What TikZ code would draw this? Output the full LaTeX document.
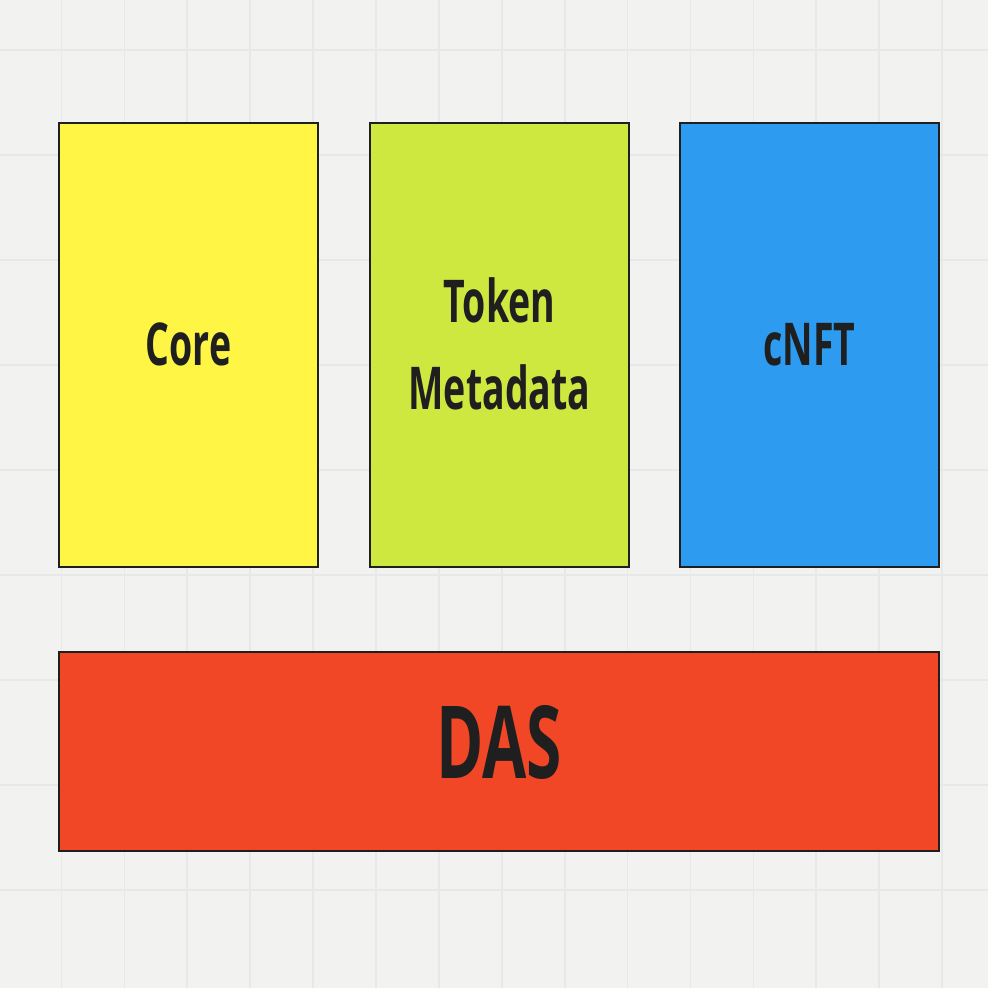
\documentclass[tikz,border=0pt]{standalone}
\usepackage{fontspec}
\setmainfont{Open Sans}
\newfontfamily\boxfont[FakeStretch=0.635]{Open Sans}
\usepackage{tikz}
\usetikzlibrary{positioning}
\definecolor{canvas}{HTML}{F2F2F1}
\definecolor{gridline}{HTML}{E8E8E8}
\definecolor{inkline}{HTML}{1F1F1F}
\definecolor{coreyellow}{HTML}{FFF545}
\definecolor{tokenlime}{HTML}{CFE840}
\definecolor{cnftblue}{HTML}{2D9BF0}
\definecolor{dasred}{HTML}{F24726}

\newcommand{\boxlabel}[2][2pt]{\vbox{\kern#1\hbox{\begin{tabular}{@{}c@{}}#2\end{tabular}}}}

\tikzset{
    tallbox/.style={draw=inkline, line width=0.55pt, minimum width=25.9mm, minimum height=44.4mm,
        inner sep=0pt, outer sep=0pt, text=inkline, font=\boxfont\bfseries\fontsize{16.8}{24.7}\selectfont},
    widebox/.style={tallbox, minimum width=88mm, minimum height=19.9mm, font=\boxfont\bfseries\fontsize{28.7}{34}\selectfont}
}

\begin{document}
\begin{tikzpicture}[x=0.1mm, y=-0.1mm]
\useasboundingbox (0,0) rectangle (988,988);
\fill[color=canvas] (0,0) rectangle (988,988);

\foreach \gx in {0,...,14}
    \draw[color=gridline, line width=0.5pt] ({61.5+62.9*\gx},0) -- ({61.5+62.9*\gx},988);
\foreach \gy in {0,...,8}
    \draw[color=gridline, line width=0.6pt] (0,{49.6+105*\gy}) -- (988,{49.6+105*\gy});

\node[tallbox, fill=coreyellow] (core) at (188.5,345) {\boxlabel{Core}};
\node[tallbox, fill=tokenlime, right=5.2mm of core] (token) {\boxlabel{Token\\Metadata}};
\node[tallbox, fill=cnftblue, right=5.1mm of token] (cnft) {\boxlabel{cNFT}};
\node[widebox, fill=dasred] (das) at (499,751.5) {\boxlabel{DAS}};
\end{tikzpicture}
\end{document}
